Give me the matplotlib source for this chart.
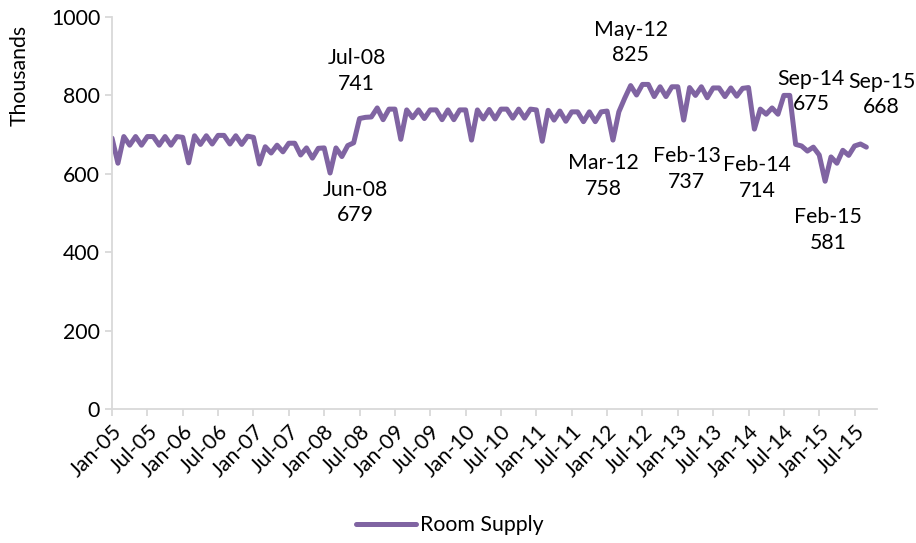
"""
Monthly room supply, Jan-05 to Sep-15 (thousands).
"""

import matplotlib
matplotlib.use("Agg")
import matplotlib.pyplot as plt
import numpy as np
import pandas as pd


LINE_COLOR = "#8064A2"
AXIS_COLOR = "#D9D9D9"
FONT = "Lato"
FONTSIZE = 15.3

# Room supply, thousands, one value per month
supply_2005 = [691, 627, 695, 673, 695, 673, 695, 695, 673, 695, 673, 695]
supply_2006 = [693, 628, 697, 675, 697, 676, 698, 698, 676, 697, 675, 696]
supply_2007 = [693, 625, 669, 653, 673, 656, 678, 678, 648, 666, 640, 665]
supply_2008 = [666, 602, 666, 644, 672, 679, 741, 744, 745, 768, 738, 765]
supply_2009 = [765, 688, 763, 743, 763, 741, 763, 763, 738, 763, 738, 763]
supply_2010 = [763, 686, 763, 740, 764, 740, 765, 765, 742, 765, 742, 765]
supply_2011 = [763, 683, 762, 737, 760, 734, 758, 758, 733, 758, 733, 758]
supply_2012 = [760, 686, 758, 793, 825, 801, 828, 828, 797, 822, 797, 822]
supply_2013 = [822, 737, 820, 800, 822, 794, 819, 819, 797, 819, 798, 818]
supply_2014 = [820, 714, 765, 752, 768, 752, 800, 800, 675, 671, 658, 668]
supply_2015 = [648, 581, 643, 627, 660, 647, 671, 676, 668]

supply = (supply_2005 + supply_2006 + supply_2007 + supply_2008 + supply_2009
          + supply_2010 + supply_2011 + supply_2012 + supply_2013 + supply_2014
          + supply_2015)
months = list(pd.date_range("2005-01-01", periods=len(supply), freq="MS").strftime("%b-%y"))

# Labelled points: month, offset of label (points) relative to the point
callouts = [
    ("Jun-08", (1, -43)),
    ("Jul-08", (-2, 34)),
    ("Mar-12", (-11, -46)),
    ("May-12", (0, 31)),
    ("Feb-13", (2, -35)),
    ("Feb-14", (2, -35)),
    ("Sep-14", (11, 38)),
    ("Feb-15", (2, -35)),
    ("Sep-15", (11, 38)),
]

plt.rcParams["font.family"] = [FONT, "DejaVu Sans"]
plt.rcParams["font.size"] = FONTSIZE

fig = plt.figure(figsize=(9.16, 5.43), dpi=100, facecolor="white")
ax = fig.add_axes([0.1223, 0.2468, 0.8351, 0.7219])

x = np.arange(len(supply))
ax.plot(x, supply, color=LINE_COLOR, linewidth=3.6, solid_joinstyle="round",
        solid_capstyle="round", label="Room Supply")

for month, (dx, dy) in callouts:
    i = months.index(month)
    ax.annotate(f"{month}\n{supply[i]}", xy=(i, supply[i]), xytext=(dx, dy),
                textcoords="offset points", ha="center", va="center",
                fontsize=FONTSIZE, linespacing=1.35, color="black",
                annotation_clip=False)

ax.set_xlim(0, 129.8)
ax.set_ylim(0, 1000)
ax.set_yticks(np.arange(0, 1001, 200))

tick_pos = x[::6]
ax.set_xticks(tick_pos)
ax.set_xticklabels([months[i] for i in tick_pos], rotation=45, ha="right",
                   rotation_mode="anchor", fontsize=FONTSIZE)

for side in ["top", "right"]:
    ax.spines[side].set_visible(False)
for side in ["left", "bottom"]:
    ax.spines[side].set_color(AXIS_COLOR)
    ax.spines[side].set_linewidth(1.3)
ax.tick_params(axis="both", colors=AXIS_COLOR, length=5, width=1.3,
               labelcolor="black", labelsize=FONTSIZE)
ax.tick_params(axis="x", pad=4)

ax.set_ylabel("Thousands", fontsize=FONTSIZE)
ax.yaxis.set_label_coords(-0.108, 0.852)

fig.legend(loc="center", bbox_to_anchor=(0.491, 0.033), frameon=False,
           fontsize=FONTSIZE, handlelength=2.8, handletextpad=0.2)

plt.savefig("out.png", dpi=100, facecolor="white")
plt.close()
